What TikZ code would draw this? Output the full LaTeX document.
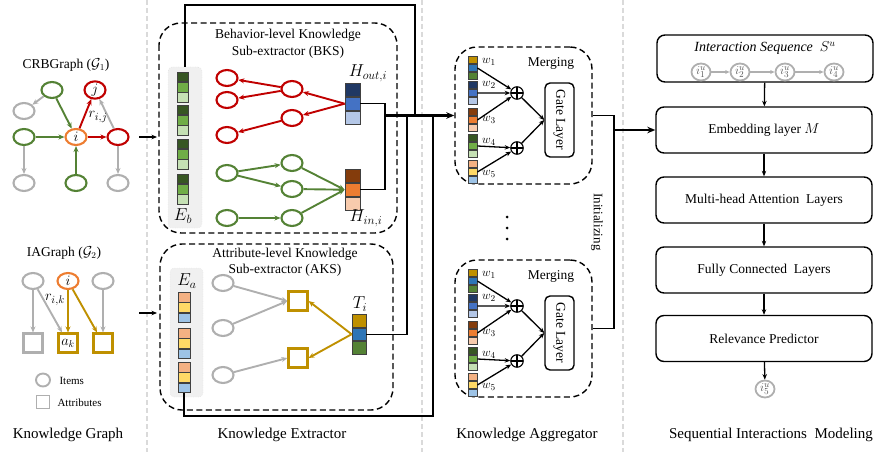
\documentclass[tikz,border=0pt]{standalone}
\usepackage{fontspec}
\setmainfont{Liberation Serif}
\usetikzlibrary{shapes.geometric,arrows.meta,calc}
\definecolor{cred}{HTML}{C00000}
\definecolor{cgreen}{HTML}{548235}
\definecolor{corange}{HTML}{ED7D31}
\definecolor{cgray}{HTML}{AFAFAF}
\definecolor{cgold}{HTML}{BF9000}
\definecolor{csep}{HTML}{DADADA}
\definecolor{gA}{HTML}{375623}\definecolor{gB}{HTML}{70AD47}\definecolor{gC}{HTML}{C5E0B4}
\definecolor{bA}{HTML}{203864}\definecolor{bB}{HTML}{4472C4}\definecolor{bC}{HTML}{B4C7E7}
\definecolor{oA}{HTML}{843C0C}\definecolor{oB}{HTML}{ED7D31}\definecolor{oC}{HTML}{F8CBAD}
\definecolor{aA}{HTML}{F4B183}\definecolor{aB}{HTML}{FFD966}\definecolor{aC}{HTML}{9DC3E6}
\definecolor{tA}{HTML}{BF9000}\definecolor{tB}{HTML}{2E75B6}\definecolor{tC}{HTML}{548235}
\newcommand\mkstack[8]{%
 \node[cellbox, minimum width=#4, minimum height=#5, fill=#6, anchor=north] (#1-1) at (#2,#3) {};
 \node[cellbox, minimum width=#4, minimum height=#5, fill=#7, anchor=north] (#1-2) at (#1-1.south) {};
 \node[cellbox, minimum width=#4, minimum height=#5, fill=#8, anchor=north] (#1-3) at (#1-2.south) {};}
\newcommand\mergeunit[2]{%
\begin{scope}[shift={(0,#2)}]
 \node[dashbox, minimum width=137pt, minimum height=137pt] (mb#1) at (523.5,115.5) {};
 \node[lbl] at (551,63) {Merging};
 \mkstack{s#1a}{472.5}{56}{9pt}{7.2pt}{tA}{tB}{tC}
 \mkstack{s#1b}{472.5}{81}{9pt}{7.2pt}{bA}{bB}{bC}
 \mkstack{s#1c}{472.5}{108}{9pt}{7.2pt}{oA}{oB}{oC}
 \mkstack{s#1d}{472.5}{134}{9pt}{7.2pt}{gA}{gB}{gC}
 \mkstack{s#1e}{472.5}{160}{9pt}{7.2pt}{aA}{aB}{aC}
 \node[oplus] (p#1a) at (517,93) {};
 \node[oplus] (p#1b) at (517,148) {};
 \node[draw, line width=1.4pt, rounded corners=5pt, minimum width=29pt, minimum height=74pt, inner sep=0pt] (gt#1) at (559.5,120) {\rotatebox{-90}{\fontsize{13.5}{15}\selectfont Gate Layer}};
 \node[wl] at (489,62) {$w_1$};
 \node[wl] at (489,85) {$w_2$};
 \node[wl] at (489,120) {$w_3$};
 \node[wl] at (489,142) {$w_4$};
 \node[wl] at (489,174) {$w_5$};
 \draw[arr] (s#1a-2.east) -- (p#1a);
 \draw[arr] (s#1b-2.east) -- (p#1a);
 \draw[arr] (s#1c-2.east) -- (p#1a);
 \draw[arr] (s#1d-2.east) -- (p#1b);
 \draw[arr] (s#1e-2.east) -- (p#1b);
 \draw[arr] (p#1a) -- (gt#1.west);
 \draw[arr] (p#1b) -- (gt#1.west);
\end{scope}}
\begin{document}
\begin{tikzpicture}[x=1pt,y=-1pt,
 item/.style={ellipse, draw, line width=2.1pt, minimum width=21pt, minimum height=16pt, inner sep=0pt, font=\fontsize{14}{16}\selectfont},
 attr/.style={rectangle, draw, line width=2.1pt, minimum size=19pt, inner sep=0pt, font=\fontsize{14}{16}\selectfont},
 garrow/.style={line width=1.9pt, -{Stealth[length=6pt,width=5pt]}},
 wire/.style={line width=1.4pt},
 arr/.style={line width=1.3pt, -{Stealth[length=5.5pt,width=4.5pt]}},
 bigarr/.style={line width=2.2pt, -{Stealth[length=8pt,width=6.5pt]}},
 dashbox/.style={draw, line width=1.4pt, dash pattern=on 6pt off 3.5pt, rounded corners=22pt, inner sep=0pt},
 cellbox/.style={draw=black!75, line width=0.8pt, inner sep=0pt, rectangle},
 bgbox/.style={fill=black!6, draw=black!18, dotted, rounded corners=4pt, inner sep=0pt},
 simbox/.style={draw, line width=1.4pt, rounded corners=8pt, minimum width=216pt, minimum height=46pt, inner sep=0pt, font=\fontsize{13.5}{16}\selectfont},
 seqc/.style={ellipse, draw=cgray, line width=1.8pt, minimum width=19pt, minimum height=17pt, inner sep=0pt, text=black!65, font=\fontsize{12.5}{14}\selectfont},
 oplus/.style={circle, draw, line width=1.1pt, minimum size=12.5pt, inner sep=0pt, path picture={\draw[line width=1.1pt] (path picture bounding box.north) -- (path picture bounding box.south) (path picture bounding box.west) -- (path picture bounding box.east);}},
 lbl/.style={font=\fontsize{13.5}{16}\selectfont},
 big/.style={font=\fontsize{15}{18}\selectfont},
 mathl/.style={font=\fontsize{18.5}{22}\selectfont},
 wl/.style={font=\fontsize{13}{15}\selectfont}
]
\useasboundingbox (0,0) rectangle (875,452);
% separators
\foreach \xx in {147,422,623} \draw[csep, line width=2pt, dash pattern=on 5pt off 3pt] (\xx,0) -- (\xx,452);

% ---------- Knowledge graph ----------
\node[lbl] at (66,65) {CRBGraph\ ($\mathcal{G}_1$)};
\node[item, draw=cgreen] (gtop) at (52,90) {};
\node[item, draw=cgray] (ggl) at (24,111) {};
\node[item, draw=cgreen] (gl) at (24,137) {};
\node[item, draw=corange] (gi) at (76,137) {$i$};
\node[item, draw=cred] (gj) at (95,90) {$j$};
\node[item, draw=cred] (gr) at (118,137) {};
\node[item, draw=cgray] (gbl) at (24,183) {};
\node[item, draw=cgreen] (gb) at (76,183) {};
\node[item, draw=cgray] (gbr) at (118,183) {};
\draw[garrow, cgray] (gtop) -- (ggl);
\draw[garrow, cgray] (gl) -- (gbl);
\draw[garrow, cgray] (gr) -- (gj);
\draw[garrow, cgray] (gr) -- (gbr);
\draw[garrow, cgreen] (gtop) -- (gi);
\draw[garrow, cgreen] (gl) -- (gi);
\draw[garrow, cgreen] (gb) -- (gi);
\draw[garrow, cred] (gi) -- (gj);
\draw[garrow, cred] (gi) -- (gr);
\node[font=\fontsize{15}{17}\selectfont] (rij) at (98,117) {$r_{i,j}$};

\node[lbl] at (64,253) {IAGraph\ ($\mathcal{G}_2$)};
\node[item, draw=cgray] (ia1) at (33,281) {};
\node[item, draw=corange] (iai) at (68,281) {$i$};
\node[item, draw=cgray] (ia3) at (103,281) {};
\node[attr, draw=cgray] (sq1) at (33,343) {};
\node[attr, draw=cgold] (sqa) at (68,343) {$a_k$};
\node[attr, draw=cgold] (sq3) at (103,343) {};
\draw[garrow, cgray] (ia1) -- (sq1);
\draw[garrow, cgray] (ia1) -- (sqa);
\draw[garrow, cgray] (ia3) -- (sq3);
\draw[garrow, cgold] (iai) -- (sqa);
\draw[garrow, cgold] (iai) -- (sq3);
\node[font=\fontsize{15}{17}\selectfont] (rik) at (55,300) {$r_{i,k}$};
\node[ellipse, draw=cgray, line width=1.9pt, minimum width=14pt, minimum height=13pt, inner sep=0pt] (lgc) at (43,380) {};
\node[rectangle, draw=cgray, line width=1.9pt, minimum size=13pt, inner sep=0pt] (lgs) at (43,402) {};
\node[font=\fontsize{11}{12}\selectfont, anchor=west] at (56,381) {Items};
\node[font=\fontsize{11}{12}\selectfont, anchor=west] at (54,403) {Attributes};

\coordinate (ka1) at (139,137); \coordinate (kb1) at (157,137);
\coordinate (ka2) at (139,313); \coordinate (kb2) at (157,313);
\draw[arr] (ka1) -- (kb1);
\draw[arr] (ka2) -- (kb2);

% ---------- Knowledge extractor ----------
\draw[dashbox] (159,23) rectangle (397,233);
\node[lbl] at (288,35) {Behavior-level Knowledge};
\node[lbl] at (288,52) {Sub-extractor (BKS)};
\node[bgbox, minimum width=34pt, minimum height=161pt] (ebbg) at (185,147.5) {};
\mkstack{eb1}{182.5}{72}{11pt}{9.4pt}{gA}{gB}{gC}
\mkstack{eb2}{182.5}{105}{11pt}{9.4pt}{gA}{gB}{gC}
\mkstack{eb3}{182.5}{139}{11pt}{9.4pt}{gA}{gB}{gC}
\mkstack{eb4}{182.5}{174}{11pt}{9.4pt}{gA}{gB}{gC}
\node[font=\fontsize{18}{21}\selectfont] at (183,216) {$E_b$};

\node[item, draw=cred] (rl1) at (227,78) {};
\node[item, draw=cred] (rl2) at (227,100) {};
\node[item, draw=cred] (rl3) at (227,135) {};
\node[item, draw=cred] (rm1) at (292,89) {};
\node[item, draw=cred] (rm2) at (292,118) {};
\node[item, draw=cgreen] (gl1) at (227,173) {};
\node[item, draw=cgreen] (gl2) at (227,218) {};
\node[item, draw=cgreen] (gm1) at (292,163) {};
\node[item, draw=cgreen] (gm2) at (292,189) {};
\node[item, draw=cgreen] (gm3) at (292,218) {};
\mkstack{hout}{352.5}{83}{15pt}{13pt}{bA}{bB}{bC}
\mkstack{hin}{352.5}{169}{15pt}{13pt}{oA}{oB}{oC}
\node[mathl] at (368,73) {$H_{out,i}$};
\node[mathl] at (366,218) {$H_{in,i}$};
\draw[garrow, cred] (hout-2.west) -- (rm1);
\draw[garrow, cred] (hout-2.west) -- (rm2);
\draw[garrow, cred] (rm1) -- (rl1);
\draw[garrow, cred] (rm1) -- (rl2);
\draw[garrow, cred] (rm2) -- (rl3);
\draw[garrow, cgreen] (gl1) -- (gm1);
\draw[garrow, cgreen] (gl1) -- (gm2);
\draw[garrow, cgreen] (gl2) -- (gm3);
\draw[garrow, cgreen] (gm1) -- (hin-2.west);
\draw[garrow, cgreen] (gm2) -- (hin-2.west);
\draw[garrow, cgreen] (gm3) -- (hin-2.west);

\draw[dashbox] (160,244) rectangle (393,410);
\node[lbl] at (285,254) {Attribute-level Knowledge};
\node[lbl] at (285,270) {Sub-extractor (AKS)};
\node[bgbox, minimum width=33pt, minimum height=129pt] (eabg) at (186.5,332.5) {};
\mkstack{ea1}{184}{292}{12pt}{9.5pt}{aA}{aB}{aC}
\mkstack{ea2}{184}{328}{12pt}{9.5pt}{aA}{aB}{aC}
\mkstack{ea3}{184}{362}{12pt}{9.5pt}{aA}{aB}{aC}
\node[font=\fontsize{18}{21}\selectfont] at (187,281) {$E_a$};
\node[item, draw=cgray] (ac1) at (223,283) {};
\node[item, draw=cgray] (ac2) at (223,328) {};
\node[item, draw=cgray] (ac3) at (223,375) {};
\node[attr, draw=cgold] (as1) at (298,301) {};
\node[attr, draw=cgold] (as2) at (298,358) {};
\mkstack{ti}{359}{314}{14pt}{12.7pt}{tA}{tB}{tC}
\node[mathl] at (360,304) {$T_i$};
\draw[garrow, cgray] (ac1) -- (as1.west);
\draw[garrow, cgray] (ac2) -- (as1.west);
\draw[garrow, cgray] (ac3) -- (as2.west);
\draw[garrow, cgold] (ti-2.west) -- (as1.east);
\draw[garrow, cgold] (ti-2.west) -- (as2.east);

% ---------- wiring ----------
\coordinate (ctop) at (415,5);
\coordinate (cH) at (385,115.5);
\coordinate (jA) at (415,115.5);
\coordinate (jB) at (407,115.5);
\coordinate (jC) at (433,115.5);
\coordinate (cEa) at (433,416);
\draw[wire] (ebbg.north) |- (ctop) -- (jA);
\draw[wire] (hout-2.east) -| (cH);
\draw[wire] (hin-2.east) -| (cH);
\draw[wire] (ti-2.east) -| (jB);
\draw[wire] (ea3-3.south) |- (cEa) -- (jC);

% ---------- aggregator ----------
\mergeunit{1}{0}
\mergeunit{2}{213}
\draw[bigarr] (cH) -- (mb1.west);
\foreach \yy in {217,228,239} \fill (507,\yy) circle (1.5pt);
\coordinate (cI) at (614,200);
\coordinate (cI2) at (614,130);
\draw[wire] (mb1.east) -| (cI) |- (mb2.east);
\node at (597,222) {\rotatebox{-90}{\fontsize{13}{15}\selectfont Initializing}};

% ---------- SIM ----------
\node[simbox, minimum height=47pt] (seq) at (765,58.5) {};
\node[font=\fontsize{14}{16}\selectfont] at (765,48) {\textit{Interaction Sequence}\ \ $S^u$};
\node[seqc] (q1) at (701,72) {$i^u_1$};
\node[seqc] (q2) at (740,72) {$i^u_2$};
\node[seqc] (q3) at (785,72) {$i^u_3$};
\node[seqc] (q4) at (834,72) {$i^u_4$};
\draw[cgray, line width=1.5pt, -{Stealth[length=4.5pt,width=4pt]}] (q1) -- (q2);
\draw[cgray, line width=1.5pt, -{Stealth[length=4.5pt,width=4pt]}] (q2) -- (q3);
\draw[cgray, line width=1.5pt, -{Stealth[length=4.5pt,width=4pt]}] (q3) -- (q4);
\node[simbox] (emb) at (764,130) {Embedding layer $M$};
\node[simbox] (mha) at (764,200) {Multi-head Attention\ \ Layers};
\node[simbox] (fcl) at (764,270) {Fully Connected\ \ Layers};
\node[simbox] (rel) at (764,338.5) {Relevance Predictor};
\node[seqc] (q5) at (765,389) {$i^u_5$};
\draw[arr] (seq) -- (emb);
\draw[arr] (emb) -- (mha);
\draw[arr] (mha) -- (fcl);
\draw[arr] (fcl) -- (rel);
\draw[arr] (rel) -- (q5);
\draw[bigarr] (cI2) -- (emb.west);

% ---------- section titles ----------
\node[big] at (68,435) {Knowledge Graph};
\node[big] at (282,435) {Knowledge Extractor};
\node[big] at (527,435) {Knowledge Aggregator};
\node[big] at (771,435) {Sequential Interactions\ \ Modeling};
\end{tikzpicture}
\end{document}
